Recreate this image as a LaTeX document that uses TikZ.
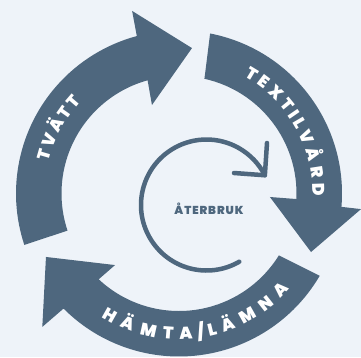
\documentclass[tikz,border=0pt]{standalone}
\usepackage{fontspec}
\usetikzlibrary{decorations.text}

\IfFontExistsTF{Poppins Black}
  {\newfontfamily\ringfont{Poppins Black}}
  {\IfFontExistsTF{Poppins ExtraBold}
    {\newfontfamily\ringfont{Poppins ExtraBold}}
    {\newfontfamily\ringfont{Poppins}[UprightFont=*-Bold]}}
\newcommand{\bandtext}{\ringfont\fontsize{17}{17}\selectfont}
\definecolor{slate}{HTML}{4E677E}
\definecolor{paper}{HTML}{EEF3F9}

\tikzset{
  band/.style={fill=slate},
  bandlabel/.style={decorate, decoration={text effects along path, text={#1},
      text effects/.cd, fit text to path,
      every character/.style={font=\bandtext, text=white, inner sep=0pt,
        anchor=base, transform shape}}},
}

\begin{document}
\begin{tikzpicture}[x=1pt,y=1pt]

\def\rOut{163}
\def\rIn{117.5}

\fill[paper] (-179,-163.5) rectangle (182,193.5);
\useasboundingbox (-179,-163.5) rectangle (182,193.5);

% washing
\fill[band] (198.4:\rOut) arc[start angle=198.4, end angle=105, radius=\rOut]
  -- (104.4:188.5) -- (84.9:146) -- (107:92.5) -- (105.5:\rIn)
  arc[start angle=105.5, end angle=198.4, radius=\rIn] -- cycle;
\path[bandlabel=TVÄTT] (166:134) arc[start angle=166, end angle=137, radius=134];

% textile care
\fill[band] (79:\rOut) arc[start angle=79, end angle=-4.7, radius=\rOut]
  -- (-4.9:182.7) -- (-23.9:144.4) -- (-2.2:91) -- (-2.7:\rIn)
  arc[start angle=-2.7, end angle=77.5, radius=\rIn] -- cycle;
\path[bandlabel=TEXTILVÅRD] (61:134) arc[start angle=61, end angle=-1, radius=134];

% pick up / drop off
\fill[band] (-30.3:\rOut) arc[start angle=-30.3, end angle=-135.1, radius=\rOut]
  -- (-135.7:191) -- (-154.5:147.4) -- (-131.8:96) -- (-133.1:\rIn)
  arc[start angle=-133.1, end angle=-31.8, radius=\rIn] -- cycle;
\path[bandlabel=HÄMTA/LÄMNA] (238:146) arc[start angle=238, end angle=319, radius=146];

% reuse loop in the middle
\coordinate (loop) at (27.5,-11.5);
\coordinate (armup) at (88,50.5);
\coordinate (armleft) at (55,20.5);
\draw[slate, line width=4.5pt, line cap=round, line join=round]
  (loop) ++(300:65.5) arc[start angle=300, end angle=27, radius=65.5] coordinate (looptip);
\draw[slate, line width=4.5pt, line cap=round, line join=round]
  (armup) -- (looptip) -- (armleft);

\node[anchor=base, text=slate, inner sep=0pt,
  font=\ringfont\fontsize{11.5}{11.5}\selectfont\addfontfeature{LetterSpace=8}]
  (reuse) at (30,-20.5) {ÅTERBRUK};

\end{tikzpicture}
\end{document}
